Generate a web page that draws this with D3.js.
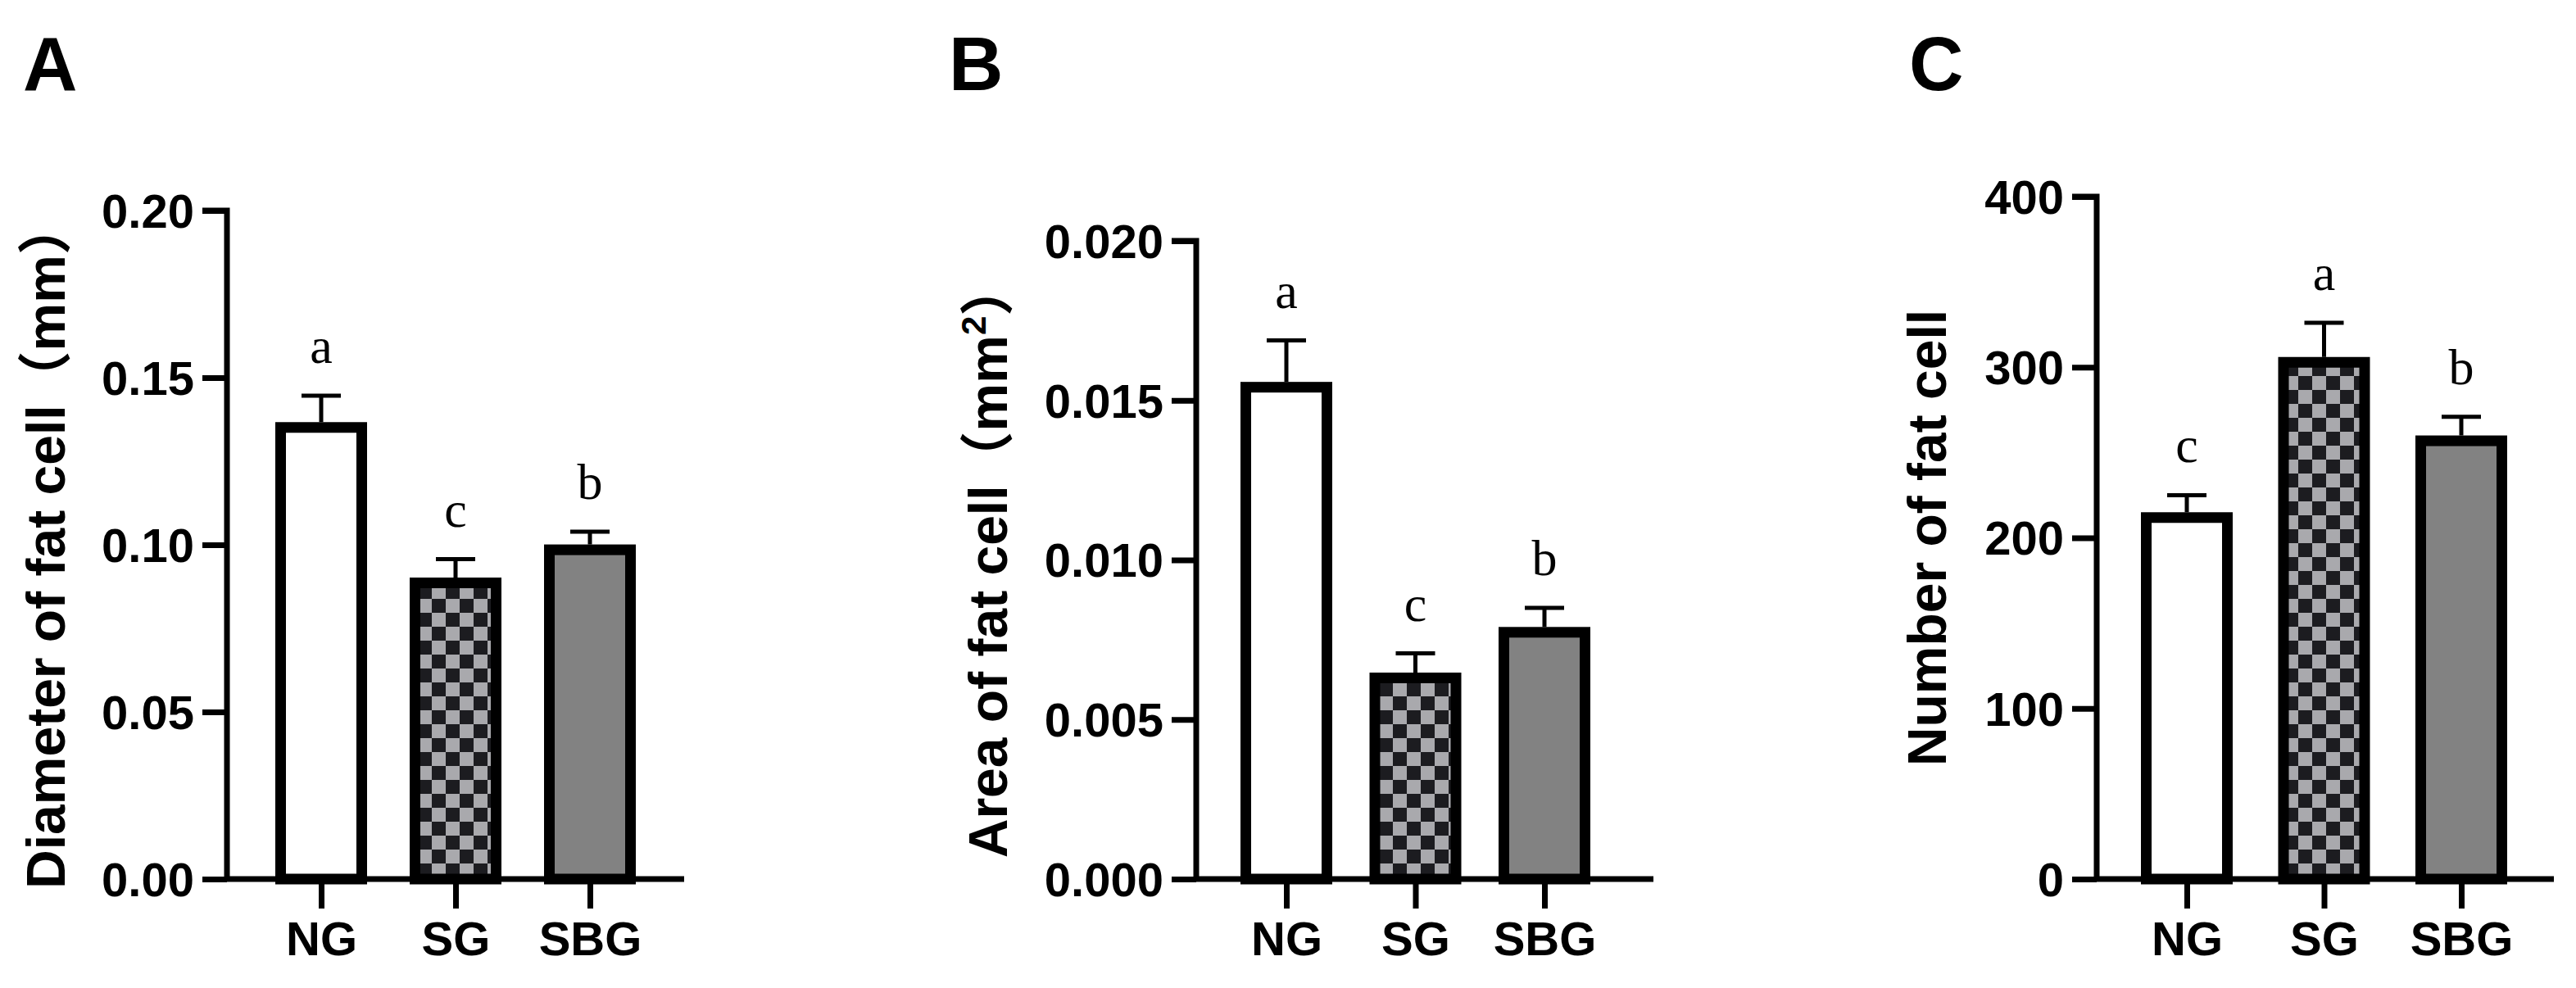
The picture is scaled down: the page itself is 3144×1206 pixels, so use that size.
<!DOCTYPE html>
<html><head><meta charset="utf-8">
<script src="https://cdn.jsdelivr.net/npm/d3@7"></script>
<style>body{margin:0;background:#fff}</style></head>
<body><svg id="c" width="3144" height="1206"></svg>
<script>
const groups = ["NG","SG","SBG"];
const diameterMean = [0.1367, 0.0902, 0.1001];
const diameterErr = [0.0079, 0.0055, 0.0038];
const diameterSig = ["a","c","b"];
const areaMean = [0.01558, 0.00647, 0.0079];
const areaErr = [0.0013, 0.0006, 0.0006];
const areaSig = ["a","c","b"];
const numberMean = [215, 306, 260];
const numberErr = [10, 20, 11];
const numberSig = ["c","a","b"];
const diameterTicks = [0,0.05,0.10,0.15,0.20];
const areaTicks = [0,0.005,0.010,0.015,0.020];
const numberTicks = [0,100,200,300,400];

const svg = d3.select("#c");
const defs = svg.append("defs");
const pat = defs.append("pattern").attr("id","chk").attr("patternUnits","userSpaceOnUse")
  .attr("width",34).attr("height",34);
pat.append("rect").attr("width",34).attr("height",34).attr("fill","#a9a9ad");
pat.append("rect").attr("width",17).attr("height",17).attr("fill","#1c1c20");
pat.append("rect").attr("x",17).attr("y",17).attr("width",17).attr("height",17).attr("fill","#1c1c20");
const fills = ["#ffffff","url(#chk)","#828282"];

const panels = [
  {letter:"A", lx:28, ax:277, top:257, x0:392, x1:720, max:0.20, ticks:diameterTicks, fmt:d3.format(".2f"), mean:diameterMean, err:diameterErr, sig:diameterSig, title:"Diameter of fat cell（mm）", tx:56, sup:false},
  {letter:"B", lx:1158, ax:1460, top:294, x0:1570, x1:1885, max:0.020, ticks:areaTicks, fmt:d3.format(".3f"), mean:areaMean, err:areaErr, sig:areaSig, title:"Area of fat cell（mm", tx:1206, sup:true},
  {letter:"C", lx:2330, ax:2559, top:240, x0:2669, x1:3004, max:400, ticks:numberTicks, fmt:d3.format("d"), mean:numberMean, err:numberErr, sig:numberSig, title:"Number of fat cell", tx:2352, sup:false}
];
const y0 = 1073, bw = 112, sw = 13;
panels.forEach(p => {
  const g = svg.append("g");
  g.append("text").attr("x",p.lx).attr("y",110).text(p.letter)
    .attr("font-family","Liberation Sans, Arial").attr("font-weight","bold").attr("font-size",92);
  const y = d3.scaleLinear().domain([0,p.max]).range([y0,p.top]);
  const x = d3.scalePoint().domain(groups).range([p.x0, p.x1]);
  groups.forEach((k,i)=>{
    const cx = x(k);
    const top = y(p.mean[i]);
    const et = y(p.mean[i]+p.err[i]);
    g.append("line").attr("x1",cx).attr("x2",cx).attr("y1",top).attr("y2",et).attr("stroke","#000").attr("stroke-width",5);
    g.append("line").attr("x1",cx-24).attr("x2",cx+24).attr("y1",et).attr("y2",et).attr("stroke","#000").attr("stroke-width",5);
    g.append("rect").attr("x",cx-bw/2+sw/2).attr("y",top+sw/2).attr("width",bw-sw).attr("height",y0-top-sw/2)
      .attr("fill",fills[i]).attr("stroke","#000").attr("stroke-width",sw);
    g.append("text").attr("x",cx).attr("y",et-40).attr("text-anchor","middle").text(p.sig[i])
      .attr("font-family","Liberation Serif, Times New Roman").attr("font-size",62);
  });
  const ya = g.append("g").attr("transform",`translate(${p.ax},0)`)
    .call(d3.axisLeft(y).tickValues(p.ticks).tickFormat(p.fmt).tickSize(30).tickPadding(10));
  ya.select(".domain").attr("stroke-width",7).attr("d",`M-30,${p.top}H0V${y0}`);
  ya.selectAll(".tick line").attr("stroke-width",7);
  ya.selectAll(".tick text").attr("font-family","Liberation Sans, Arial").attr("font-weight","bold").attr("font-size",58).attr("dy","0.35em");
  const xa = g.append("g").attr("transform",`translate(0,${y0})`)
    .call(d3.axisBottom(x).tickSize(36).tickPadding(16));
  xa.select(".domain").attr("stroke-width",7).attr("d",`M${p.ax},0H${p.ax+558}`);
  xa.selectAll(".tick line").attr("stroke-width",7);
  xa.selectAll(".tick text").attr("font-family","Liberation Sans, Arial").attr("font-weight","bold").attr("font-size",58);
  const cy = (p.top+y0)/2;
  const t = g.append("text").attr("transform",`translate(${p.tx},${cy}) rotate(-90)`).attr("text-anchor","middle").attr("dy","0.35em")
    .attr("font-family","Liberation Sans, Arial, Noto Sans CJK SC").attr("font-weight","bold").attr("font-size",66);
  if(p.sup){
    t.append("tspan").text(p.title);
    t.append("tspan").text("2").attr("font-size",42).attr("dy",-26);
    t.append("tspan").text("）").attr("dy",26);
  } else t.text(p.title);
});
</script></body></html>
